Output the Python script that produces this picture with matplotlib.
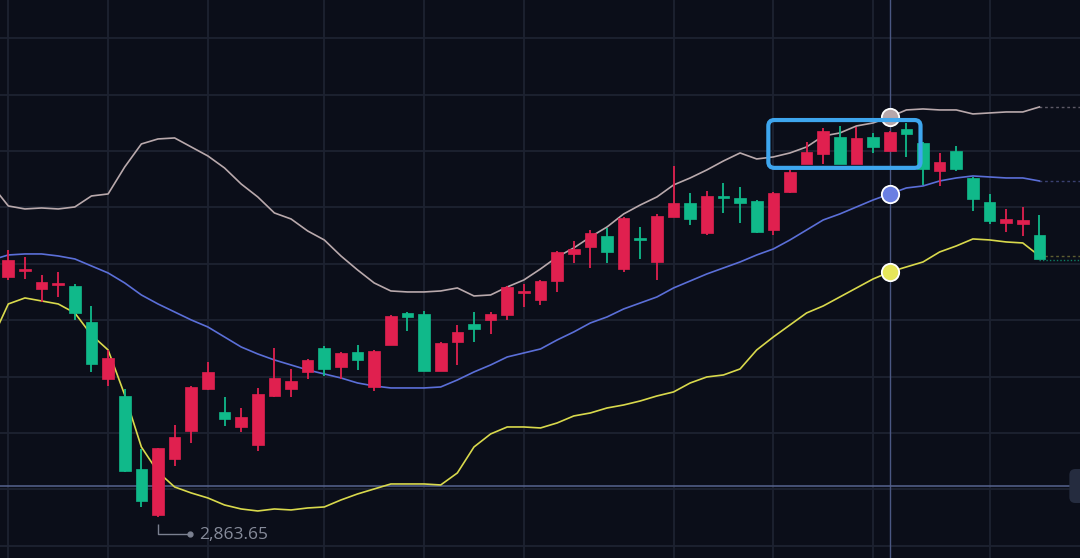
import numpy as np
import matplotlib
matplotlib.use("Agg")
import matplotlib.pyplot as plt
from matplotlib.patches import FancyBboxPatch

# ---------------- data ----------------
opens = [2970.15, 2972.59, 2964.84, 2966.61, 2966.16, 2950.21, 2924.95, 2917.41, 2885.06, 2864.67,
         2889.49, 2901.90, 2920.52, 2910.32, 2903.67, 2895.70, 2917.41, 2920.52, 2928.05, 2938.69,
         2930.27, 2936.91, 2921.40, 2940.02, 2954.20, 2953.76, 2928.49, 2941.35, 2949.32, 2951.10,
         2953.31, 2963.06, 2959.96, 2968.38, 2980.34, 2983.45, 2988.32, 2973.70, 2987.44, 2976.80,
         2996.75, 3002.95, 2989.65, 3005.83, 3005.17, 3003.84, 2990.98, 3007.83, 3020.24, 3024.67,
         3032.20, 3020.24, 3032.20, 3026.00, 3035.75, 3029.54, 3017.13, 3026.00, 3014.03, 3003.39,
         2994.09, 2993.64, 2988.77]
highs = [2982.12, 2979.02, 2971.04, 2972.37, 2967.05, 2957.30, 2937.80, 2920.52, 2893.92, 2894.37,
         2904.56, 2921.84, 2932.48, 2916.97, 2912.09, 2920.96, 2938.69, 2929.38, 2933.81, 2939.57,
         2936.91, 2940.02, 2937.58, 2953.09, 2954.42, 2955.08, 2941.12, 2948.88, 2954.64, 2954.64,
         2966.16, 2967.05, 2968.82, 2981.45, 2986.11, 2990.98, 2991.87, 2996.52, 2992.31, 2998.08,
         3019.35, 3007.38, 3008.27, 3011.81, 3010.04, 3004.28, 3007.60, 3017.57, 3029.99, 3036.19,
         3037.08, 3036.64, 3033.97, 3034.64, 3038.41, 3029.77, 3025.11, 3028.21, 3014.25, 3006.94,
         3000.29, 3001.18, 2997.63]
lows = [2968.82, 2969.27, 2959.07, 2961.29, 2951.10, 2928.05, 2921.84, 2883.73, 2868.22, 2863.65,
        2886.39, 2896.58, 2920.08, 2904.12, 2901.46, 2893.04, 2916.97, 2916.97, 2924.95, 2926.28,
        2924.95, 2928.94, 2919.63, 2939.80, 2946.22, 2928.27, 2928.27, 2931.15, 2941.35, 2944.89,
        2951.10, 2956.86, 2957.74, 2963.51, 2976.36, 2974.14, 2976.36, 2972.37, 2978.13, 2968.82,
        2996.52, 2993.20, 2988.77, 2998.52, 2994.09, 2989.65, 2988.77, 3007.38, 3020.01, 3020.24,
        3020.01, 3020.01, 3025.11, 3025.78, 3023.34, 3010.93, 3010.48, 3017.13, 2999.40, 2993.64,
        2990.10, 2988.32, 2977.91]
closes = [2977.69, 2973.26, 2967.94, 2967.49, 2954.20, 2931.60, 2934.25, 2884.17, 2870.88, 2894.37,
          2899.24, 2921.40, 2928.05, 2907.22, 2908.11, 2918.30, 2925.39, 2924.06, 2933.37, 2929.38,
          2936.47, 2933.37, 2937.36, 2952.87, 2952.43, 2928.49, 2940.90, 2945.78, 2947.11, 2953.76,
          2965.72, 2963.95, 2968.38, 2981.23, 2982.56, 2989.65, 2981.23, 2996.30, 2986.56, 2997.19,
          3002.95, 2995.86, 3006.05, 3005.17, 3002.95, 2990.10, 3007.38, 3016.69, 3025.55, 3034.86,
          3020.24, 3031.76, 3027.77, 3034.42, 3033.53, 3018.02, 3021.12, 3018.02, 3004.72, 2994.97,
          2995.86, 2995.42, 2978.13]

# Bollinger bands (first value belongs to the bar just left of the view)
upper_band = [3010.93, 3001.62, 3000.29, 3000.73, 3000.29, 3001.18, 3006.05, 3006.94, 3018.91, 3029.10,
              3031.32, 3031.76, 3027.77, 3023.78, 3018.46, 3011.37, 3005.61, 2998.52, 2995.86, 2990.54,
              2986.55, 2979.46, 2973.26, 2967.49, 2963.95, 2963.51, 2963.51, 2963.95, 2965.28, 2961.73,
              2962.18, 2965.72, 2968.82, 2973.70, 2979.02, 2983.01, 2987.88, 2992.31, 2998.08, 3002.06,
              3005.61, 3010.93, 3014.03, 3017.58, 3021.56, 3025.11, 3022.45, 3023.34, 3025.11, 3027.77,
              3032.64, 3033.97, 3037.08, 3038.41, 3041.07, 3044.17, 3044.61, 3044.17, 3044.17, 3042.40,
              3042.84, 3043.28, 3043.28, 3045.50]
middle_band = [2977.69, 2979.90, 2980.35, 2980.35, 2979.46, 2978.13, 2975.03, 2971.93, 2967.49, 2962.18,
               2958.19, 2954.64, 2951.10, 2947.99, 2943.56, 2939.13, 2936.03, 2933.37, 2931.15, 2928.94,
               2927.16, 2925.39, 2923.17, 2921.84, 2920.96, 2920.96, 2920.96, 2921.40, 2924.50, 2928.05,
               2931.15, 2934.70, 2936.47, 2938.24, 2942.23, 2945.78, 2949.77, 2952.43, 2955.97, 2958.63,
               2961.29, 2965.28, 2968.38, 2971.48, 2974.14, 2976.80, 2979.90, 2982.56, 2986.55, 2990.98,
               2995.42, 2998.08, 3001.18, 3004.28, 3006.94, 3009.60, 3010.48, 3012.70, 3014.03, 3014.92,
               3014.47, 3014.03, 3014.03, 3012.70]
lower_band = [2942.23, 2958.19, 2960.85, 2959.52, 2958.19, 2954.20, 2944.45, 2937.80, 2917.86, 2894.81,
              2883.73, 2877.08, 2874.42, 2872.21, 2869.10, 2867.33, 2866.44, 2867.33, 2866.89, 2867.77,
              2868.22, 2871.32, 2873.98, 2876.20, 2878.41, 2878.41, 2878.41, 2877.97, 2883.29, 2894.81,
              2900.57, 2903.67, 2903.67, 2903.23, 2905.45, 2908.55, 2909.88, 2912.09, 2913.42, 2915.20,
              2917.41, 2919.19, 2923.17, 2925.83, 2926.72, 2929.38, 2937.80, 2943.56, 2948.88, 2954.20,
              2957.30, 2961.29, 2965.28, 2969.27, 2972.37, 2974.59, 2976.80, 2981.23, 2983.89, 2987.00,
              2986.56, 2985.67, 2985.22, 2979.46]

session_breaks = [0, 6, 12, 19, 25, 31, 40, 46, 52, 59]
crosshair_idx = 53
crosshair_price = 2877.5
low_label = "2,863.65"

# ---------------- style ----------------
BG = "#0b0e19"
GRID = "#1d2231"
UP = "#e0204f"     # rising candles are red
DOWN = "#10b98a"   # falling candles are green
C_UP_BAND = "#b9a9ac"
C_MID_BAND = "#5b6fd8"
C_LOW_BAND = "#d9d94c"

fig = plt.figure(figsize=(10.8, 5.58), dpi=100, facecolor=BG)
ax = fig.add_axes([0, 0, 1, 1])
ax.set_facecolor(BG)
for s in ax.spines.values():
    s.set_visible(False)
ax.set_xticks([])
ax.set_yticks([])

x = np.arange(len(opens))
o = np.array(opens); h = np.array(highs); l = np.array(lows); c = np.array(closes)
band_x = np.arange(-1, len(opens))

ax.set_xlim(-0.5, 64.44)
ax.set_ylim(2845.6, 3092.9)

# grid
for g in np.arange(2851, 3100, 25):
    ax.axhline(g, color=GRID, lw=1.3, zorder=0)
for b in session_breaks:
    ax.axvline(b, color=GRID, lw=1.3, zorder=0)

# crosshair
ax.axvline(crosshair_idx, color="#4a5782", lw=1.0, zorder=1)
ax.axhline(crosshair_price, color="#56638f", lw=1.1, zorder=1)

# bands
ax.plot(band_x, upper_band, color=C_UP_BAND, lw=1.2, zorder=2)
ax.plot(band_x, middle_band, color=C_MID_BAND, lw=1.2, zorder=2)
ax.plot(band_x, lower_band, color=C_LOW_BAND, lw=1.2, zorder=2)

# dotted extensions to the right edge
xr = [band_x[-1], 64.6]
ax.plot(xr, [upper_band[-1]] * 2, color="#5d5a66", lw=1.0, ls=(0, (2, 2)), zorder=1)
ax.plot(xr, [middle_band[-1]] * 2, color="#3a4170", lw=1.0, ls=(0, (2, 2)), zorder=1)
ax.plot(xr, [lower_band[-1]] * 2, color="#5e5e32", lw=1.0, ls=(0, (2, 2)), zorder=1)
ax.plot(xr, [closes[-1] - 0.6] * 2, color="#0e7d62", lw=1.0, ls=(0, (1, 1.5)), zorder=1)

# candles
cols = np.where(c >= o, UP, DOWN)
ax.vlines(x, l, h, colors=cols, lw=1.3, zorder=3)
bottoms = np.minimum(o, c)
heights = np.maximum(np.abs(c - o), 0.9)
ax.bar(x, heights, bottom=bottoms, width=0.7, color=cols, edgecolor=cols, lw=0.5, zorder=4)

# highlight box (display-pixel coordinates, rounded)
fig.canvas.draw()
(x0, y0) = ax.transData.transform((45.7, 3018.5))
(x1, y1) = ax.transData.transform((54.85, 3039.7))
box = FancyBboxPatch((x0, y0), x1 - x0, y1 - y0,
                     boxstyle="round,pad=0,rounding_size=6",
                     fill=False, edgecolor="#3ea6ee", lw=3.0,
                     transform=None, zorder=5)
fig.add_artist(box)

# crosshair dots
for band, colr in [(upper_band, "#b7a7aa"), (middle_band, "#6a7fe2"), (lower_band, "#e6e65a")]:
    ax.plot(crosshair_idx, band[crosshair_idx + 1], "o", ms=12.5, mfc=colr,
            mec="white", mew=1.3, zorder=6)

# low label with connector
imin = int(np.argmin(l))
lowv = l[imin]
px = 0.4432  # price per pixel
ax.plot([imin, imin, imin + 1.93], [lowv - 7 * px, lowv - 17 * px, lowv - 17 * px],
        color="#7b8090", lw=1.0, zorder=5, solid_capstyle="butt")
ax.plot(imin + 1.93, lowv - 17 * px, "o", ms=3.5, color="#7b8090", zorder=5)
ax.text(imin + 2.45, lowv - 18 * px, low_label, color="#868b9a", fontsize=12.5,
        family=["Open Sans", "DejaVu Sans"], ha="left", va="center", zorder=5)

# small scroll button at the right edge
(bx, by) = ax.transData.transform((63.8, crosshair_price))
btn = FancyBboxPatch((bx, by - 17), 30, 34, boxstyle="round,pad=0,rounding_size=6",
                     facecolor="#252c3f", edgecolor="none", transform=None, zorder=6)
fig.add_artist(btn)
ax.plot(64.35, crosshair_price, "o", ms=2.0, color="#9aa3bd", zorder=7)

fig.savefig("out.png", dpi=100, facecolor=BG)
